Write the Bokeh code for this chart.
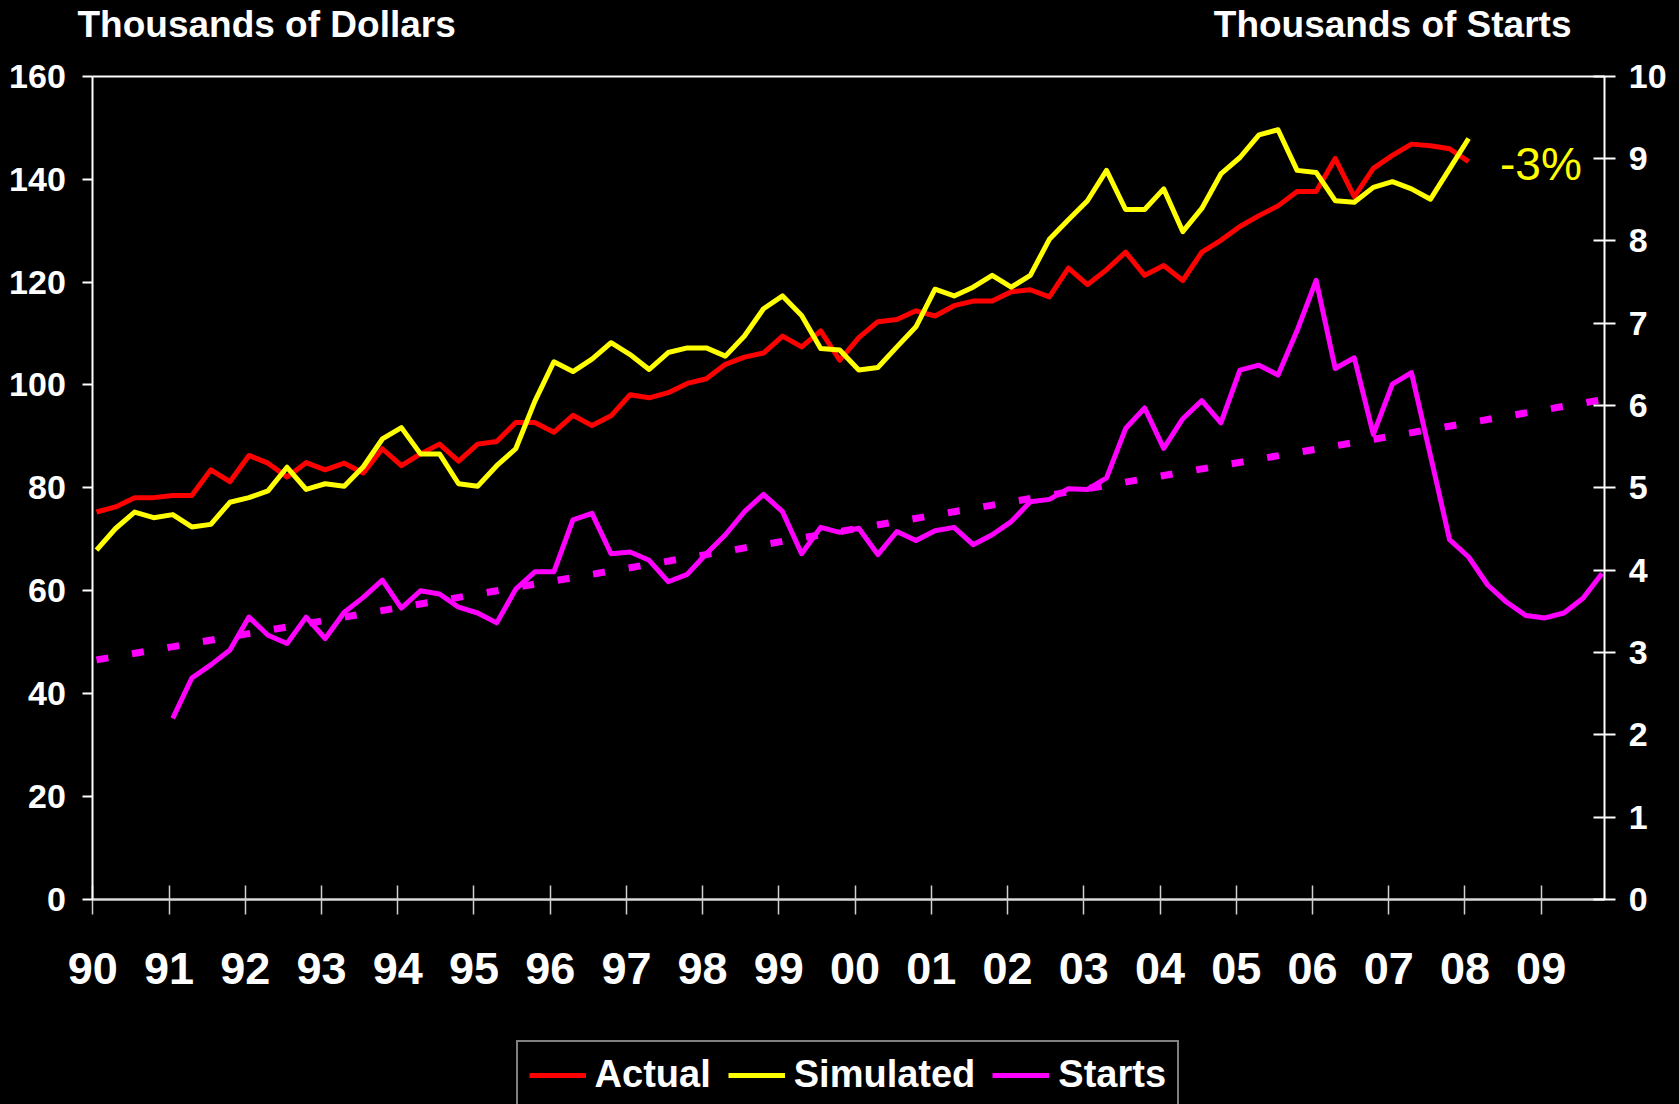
from bokeh.plotting import figure
from bokeh.models import Range1d, LinearAxis, FixedTicker, Label, Legend, LegendItem
from bokeh.embed import file_html
from bokeh.resources import INLINE

# ---------------- data ----------------
year_ticks = list(range(1990, 2010))
year_labels = ["90", "91", "92", "93", "94", "95", "96", "97", "98", "99",
               "00", "01", "02", "03", "04", "05", "06", "07", "08", "09"]
left_ticks = [0, 20, 40, 60, 80, 100, 120, 140, 160]
right_ticks = [0, 1, 2, 3, 4, 5, 6, 7, 8, 9, 10]

# quarterly, 1990Q1 .. 2008Q1 (thousands of dollars)
actual = [75.3, 76.3, 78.1, 78.1,
          78.5, 78.5, 83.5, 81.2,
          86.3, 84.8, 82.1, 84.9,
          83.5, 84.8, 82.9, 87.6,
          84.3, 86.6, 88.5, 85.2,
          88.5, 89.0, 92.7, 92.7,
          90.8, 94.1, 92.1, 94.0,
          98.1, 97.5, 98.5, 100.3,
          101.2, 104.0, 105.4, 106.2,
          109.5, 107.4, 110.5, 104.8,
          109.2, 112.3, 112.7, 114.4,
          113.4, 115.4, 116.3, 116.3,
          118.1, 118.5, 117.1, 122.7,
          119.5, 122.4, 125.8, 121.3,
          123.2, 120.3, 125.8, 128.1,
          130.8, 132.9, 134.8, 137.6,
          137.6, 144.0, 136.6, 142.1,
          144.6, 146.8, 146.5, 145.9,
          143.4]

simulated = [67.9, 72.1, 75.3, 74.2,
             74.8, 72.4, 72.9, 77.2,
             78.1, 79.4, 84.0, 79.7,
             80.8, 80.3, 84.1, 89.5,
             91.7, 86.6, 86.6, 80.8,
             80.3, 84.3, 87.6, 96.8,
             104.5, 102.6, 105.0, 108.2,
             105.9, 103.0, 106.3, 107.2,
             107.2, 105.6, 109.5, 114.8,
             117.3, 113.5, 107.1, 106.8,
             102.9, 103.4, 107.4, 111.3,
             118.6, 117.3, 119.0, 121.3,
             119.0, 121.3, 128.3, 132.1,
             135.8, 141.7, 134.1, 134.1,
             138.1, 129.8, 134.3, 141.0,
             144.2, 148.6, 149.6, 141.7,
             141.3, 135.8, 135.5, 138.4,
             139.5, 138.1, 136.1, 142.0,
             147.9]

# quarterly, 1991Q1 .. 2009Q4 (thousands of starts)
starts = [2.20, 2.69, 2.85, 3.03,
          3.43, 3.21, 3.11, 3.43,
          3.17, 3.49, 3.67, 3.88,
          3.54, 3.75, 3.71, 3.55,
          3.48, 3.36, 3.77, 3.98,
          3.98, 4.61, 4.69, 4.20,
          4.22, 4.12, 3.86, 3.95,
          4.20, 4.43, 4.71, 4.92,
          4.71, 4.20, 4.52, 4.46,
          4.51, 4.19, 4.47, 4.36,
          4.48, 4.52, 4.31, 4.43,
          4.59, 4.83, 4.86, 4.99,
          4.98, 5.12, 5.72, 5.97,
          5.48, 5.84, 6.06, 5.79,
          6.43, 6.49, 6.37, 6.91,
          7.52, 6.45, 6.58, 5.65,
          6.26, 6.40, 5.39, 4.37,
          4.16, 3.82, 3.61, 3.45,
          3.42, 3.48, 3.66, 3.96]

# linear trend of starts: value at 1990Q1 and at 2009Q4
trend_years = [1990.0, 2009.75]
trend_values = [2.91, 6.07]

prices_first_year = 1990
starts_first_year = 1991
mid_month = 0.0485  # observations dated mid-month
axis_end_year = 2009.835

x_prices = [prices_first_year + i / 4 + mid_month for i in range(len(actual))]
x_starts = [starts_first_year + i / 4 + mid_month for i in range(len(starts))]
x_trend = [t + mid_month for t in trend_years]

# ---------------- geometry (pixels of the 1679x1104 canvas) ----------------
W, H = 1679, 1104
PX_LEFT, PX_RIGHT = 92.3, 1604.3       # left / right axis
PY_TOP, PY_BOTTOM = 75.7, 899.0        # 160 / 0 lines
px_per_year = (PX_RIGHT - PX_LEFT) / (axis_end_year - 1990)


def px_to_year(px):
    return 1990 + (px - PX_LEFT) / px_per_year


def py_to_left(py):
    return (PY_BOTTOM - py) * 160 / (PY_BOTTOM - PY_TOP)


def py_to_right(py):
    return (PY_BOTTOM - py) * 10 / (PY_BOTTOM - PY_TOP)


p = figure(width=W, height=H, output_backend="svg", toolbar_location=None,
           x_range=Range1d(px_to_year(0), px_to_year(W)),
           y_range=Range1d(py_to_left(H), py_to_left(0)),
           min_border_left=0, min_border_right=0, min_border_top=0,
           min_border_bottom=0,
           background_fill_color="black", border_fill_color="black",
           outline_line_color=None)
p.xgrid.visible = False
p.ygrid.visible = False
p.extra_y_ranges = {"starts": Range1d(py_to_right(H), py_to_right(0))}

FONT = "Liberation Sans"

# x axis (at 0)
xa = p.xaxis[0]
xa.fixed_location = 0
xa.bounds = (1990, axis_end_year)
xa.ticker = FixedTicker(ticks=year_ticks)
xa.major_label_overrides = {y: l for y, l in zip(year_ticks, year_labels)}
xa.major_tick_in = 14
xa.major_tick_out = 15
xa.minor_tick_line_color = None
xa.axis_line_color = "#DADADA"
xa.axis_line_width = 2.5
xa.major_tick_line_color = "#D0D0D0"
xa.major_tick_line_width = 1.5
xa.major_label_text_font = FONT
xa.major_label_text_font_style = "bold"
xa.major_label_text_font_size = "45px"
xa.major_label_text_color = "white"
xa.major_label_standoff = 38

# left axis
ya = p.yaxis[0]
ya.fixed_location = 1990
ya.bounds = (0, 160)
ya.ticker = FixedTicker(ticks=left_ticks)
ya.major_tick_in = 0
ya.major_tick_out = 10
ya.minor_tick_line_color = None
ya.axis_line_color = "white"
ya.axis_line_width = 2
ya.major_tick_line_color = "white"
ya.major_tick_line_width = 2
ya.major_label_text_font = FONT
ya.major_label_text_font_style = "bold"
ya.major_label_text_font_size = "34px"
ya.major_label_text_color = "white"
ya.major_label_standoff = 17

# right axis
ra = LinearAxis(y_range_name="starts", ticker=FixedTicker(ticks=right_ticks))
ra.fixed_location = axis_end_year
ra.bounds = (0, 10)
ra.major_tick_in = 11
ra.major_tick_out = 11
ra.minor_tick_line_color = None
ra.axis_line_color = "white"
ra.axis_line_width = 2
ra.major_tick_line_color = "white"
ra.major_tick_line_width = 2
ra.major_label_text_font = FONT
ra.major_label_text_font_style = "bold"
ra.major_label_text_font_size = "34px"
ra.major_label_text_color = "white"
ra.major_label_standoff = 13
p.add_layout(ra, "right")

# top border of the plot area (at 160)
ta = LinearAxis(ticker=FixedTicker(ticks=[]))
ta.fixed_location = 160
ta.bounds = (1990, axis_end_year)
ta.axis_line_color = "white"
ta.axis_line_width = 2
ta.major_tick_line_color = None
ta.minor_tick_line_color = None
ta.major_label_text_alpha = 0
p.add_layout(ta, "above")

# ---------------- series ----------------
r_trend = p.line(x_trend, trend_values, y_range_name="starts", line_color="#FF00FF",
                 line_width=7, line_dash="12 24", line_cap="butt")
r_starts = p.line(x_starts, starts, y_range_name="starts", line_color="#FF00FF",
                  line_width=5, line_join="round")
r_act = p.line(x_prices, actual, line_color="#FF0000", line_width=5, line_join="round")
r_sim = p.line(x_prices, simulated, line_color="#FFFF00", line_width=5, line_join="round")

# ---------------- texts ----------------
p.add_layout(Label(x=px_to_year(77), y=py_to_left(24.2), text="Thousands of Dollars",
                   text_font=FONT, text_font_style="bold",
                   text_font_size="37px", text_color="white",
                   text_align="left", text_baseline="middle"))
p.add_layout(Label(x=px_to_year(1571), y=py_to_left(24.2), text="Thousands of Starts",
                   text_font=FONT, text_font_style="bold",
                   text_font_size="37px", text_color="white",
                   text_align="right", text_baseline="middle"))
p.add_layout(Label(x=px_to_year(1499.5), y=py_to_left(163.4), text="-3%",
                   text_font=FONT, text_font_style="normal",
                   text_font_size="46px", text_color="#FFFF00",
                   text_align="left", text_baseline="middle"))

# ---------------- legend ----------------
legend = Legend(items=[LegendItem(label="Actual", renderers=[r_act]),
                       LegendItem(label="Simulated", renderers=[r_sim]),
                       LegendItem(label="Starts", renderers=[r_starts])],
                orientation="horizontal", location=(515.6, -5),
                border_line_color="white", border_line_width=2,
                background_fill_color="black", background_fill_alpha=1.0,
                label_text_color="white", label_text_font=FONT,
                label_text_font_style="bold", label_text_font_size="38px",
                glyph_width=57, glyph_height=20, label_standoff=9,
                spacing=17, padding=11, margin=0)
p.add_layout(legend)

html = file_html(p, INLINE, title="Thousands of Dollars / Thousands of Starts")
html = html.replace("</head>", "<style>html, body {background-color: #000000;}</style>\n</head>", 1)
open("out.html", "w").write(html)
